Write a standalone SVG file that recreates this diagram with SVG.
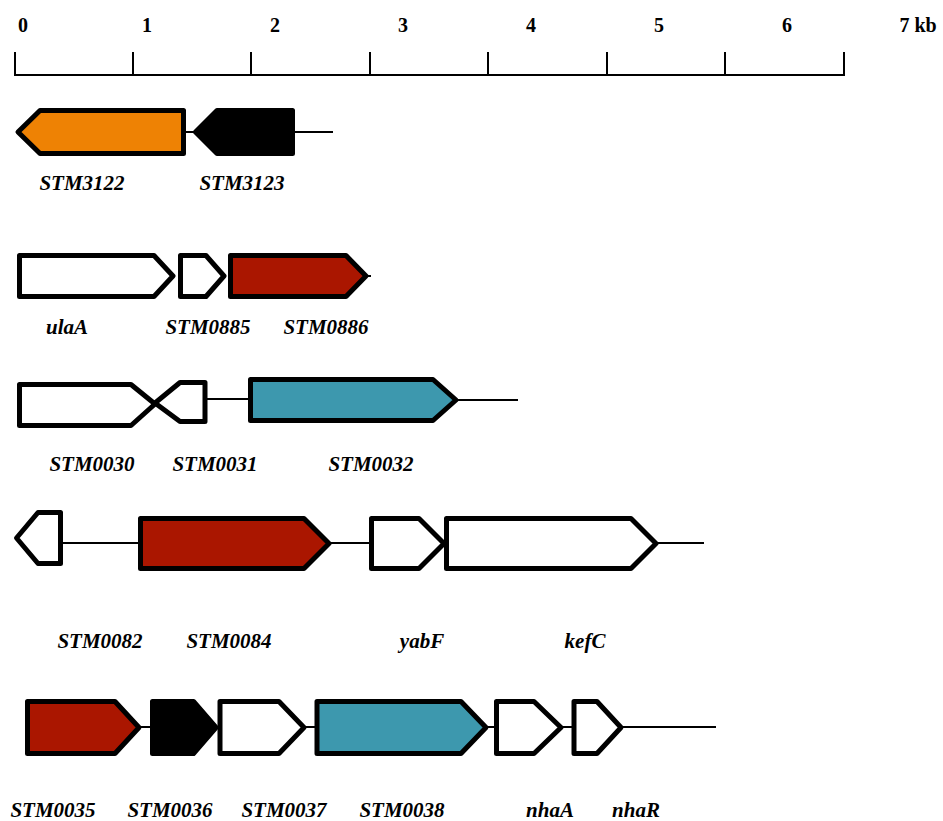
<svg xmlns="http://www.w3.org/2000/svg" width="943" height="821" viewBox="0 0 943 821">
<style>
.gene{stroke:#000;stroke-width:5;stroke-linejoin:round}
.w{fill:#fff}.o{fill:#EE8204}.r{fill:#AA1600}.t{fill:#3D98AE}.k{fill:#000}
.bb{stroke:#000;stroke-width:2;fill:none}
.lab{font-family:"Liberation Serif","Times New Roman",serif;font-weight:bold;font-style:italic;font-size:21px;text-anchor:middle;fill:#000}
.num{font-family:"Liberation Serif","Times New Roman",serif;font-weight:bold;font-size:20px;text-anchor:middle;fill:#000}
</style>
<rect width="943" height="821" fill="#fff"/>
<g id="scale">
<path class="bb" d="M14,75 H845 M15,52 V75 M133,52 V75 M251,52 V75 M370,52 V75 M488,52 V75 M607,52 V75 M725,52 V75 M844,52 V75"/>
<text class="num" x="23" y="32">0</text>
<text class="num" x="147" y="32">1</text>
<text class="num" x="275" y="32">2</text>
<text class="num" x="403" y="32">3</text>
<text class="num" x="531" y="32">4</text>
<text class="num" x="659" y="32">5</text>
<text class="num" x="787" y="32">6</text>
<text class="num" x="918" y="32">7 kb</text>
</g>
<g id="connectors">
<path class="bb" d="M183,132 H333"/>
<path class="bb" d="M365,276 H371"/>
<path class="bb" d="M205,399 H250 M455,400 H518"/>
<path class="bb" d="M60,543 H704"/>
<path class="bb" d="M139,727 H716"/>
</g>
<g id="STM3122"><path class="gene o" d="M18,132 L40,110.5 H183.5 V153.5 H40 Z"/><text class="lab" x="82" y="190">STM3122</text></g>
<g id="STM3123"><path class="gene k" d="M195.5,132 L217,110.5 H292.5 V153.5 H217 Z"/><text class="lab" x="242" y="190">STM3123</text></g>
<g id="ulaA"><path class="gene w" d="M19.5,255.5 H154 L173,276 L154,296.5 H19.5 Z"/><text class="lab" x="67" y="334">ulaA</text></g>
<g id="STM0885"><path class="gene w" d="M180.5,255.5 H206 L224,276 L206,296.5 H180.5 Z"/><text class="lab" x="208" y="334">STM0885</text></g>
<g id="STM0886"><path class="gene r" d="M230.5,255.5 H346 L366,276 L346,296.5 H230.5 Z"/><text class="lab" x="326" y="334">STM0886</text></g>
<g id="STM0030"><path class="gene w" d="M19.5,384.5 H131 L155,404 L131,425.5 H19.5 Z"/><text class="lab" x="92" y="471">STM0030</text></g>
<g id="STM0031"><path class="gene w" d="M155,403 L180,382.5 H205 V421.5 H180 Z"/><text class="lab" x="215" y="471">STM0031</text></g>
<g id="STM0032"><path class="gene t" d="M250.5,379.5 H433 L456,400 L433,420.5 H250.5 Z"/><text class="lab" x="371" y="471">STM0032</text></g>
<g id="STM0082"><path class="gene w" d="M16.5,538 L38,512.5 H60.5 V563.5 H38 Z"/><text class="lab" x="100" y="648">STM0082</text></g>
<g id="STM0084"><path class="gene r" d="M140.5,518.5 H304 L329,543.5 L304,568.5 H140.5 Z"/><text class="lab" x="229" y="648">STM0084</text></g>
<g id="yabF"><path class="gene w" d="M371.5,518.5 H419 L444,543.5 L419,568.5 H371.5 Z"/><text class="lab" x="422" y="648">yabF</text></g>
<g id="kefC"><path class="gene w" d="M446.5,518.5 H631 L656,543.5 L631,568.5 H446.5 Z"/><text class="lab" x="585" y="648">kefC</text></g>
<g id="STM0035"><path class="gene r" d="M27.5,701.5 H115 L139,727.5 L115,753.5 H27.5 Z"/><text class="lab" x="53" y="817">STM0035</text></g>
<g id="STM0036"><path class="gene k" d="M152.5,701.5 H193.5 L216,727.5 L193.5,753.5 H152.5 Z"/><text class="lab" x="170" y="817">STM0036</text></g>
<g id="STM0037"><path class="gene w" d="M220,701.5 H279 L304,727.5 L279,753.5 H220 Z"/><text class="lab" x="284" y="817">STM0037</text></g>
<g id="STM0038"><path class="gene t" d="M317,701.5 H461 L486,727.5 L461,753.5 H317 Z"/><text class="lab" x="402" y="817">STM0038</text></g>
<g id="nhaA"><path class="gene w" d="M496.5,701.5 H534 L561,727.5 L534,753.5 H496.5 Z"/><text class="lab" x="550" y="817">nhaA</text></g>
<g id="nhaR"><path class="gene w" d="M574,701.5 H597 L621,727.5 L597,753.5 H574 Z"/><text class="lab" x="636" y="817">nhaR</text></g>
</svg>
